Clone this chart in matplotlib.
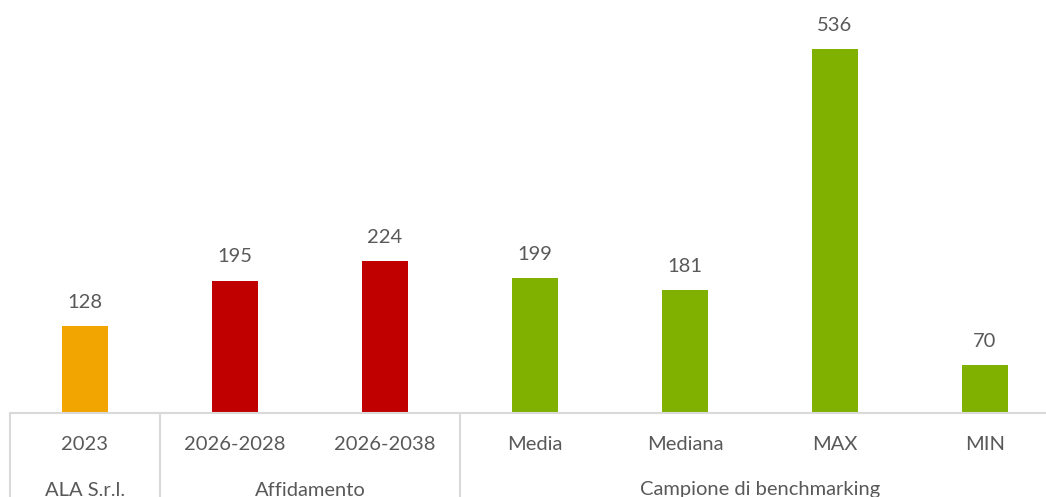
import matplotlib.pyplot as plt
from matplotlib.transforms import blended_transform_factory

plt.rcParams['font.family'] = ['Lato', 'DejaVu Sans']

categories = ['2023', '2026-2028', '2026-2038', 'Media', 'Mediana', 'MAX', 'MIN']
values = [128, 195, 224, 199, 181, 536, 70]
colors = ['#f2a400', '#c00000', '#c00000', '#80b000', '#80b000', '#80b000', '#80b000']
groups = ['ALA S.r.l.', 'Affidamento', 'Campione di benchmarking']
group_spans = [(0, 0), (1, 2), (3, 6)]

text_color = '#595959'
line_color = '#d9d9d9'
fs = 14.5

W, H = 1046, 497
fig = plt.figure(figsize=(W / 100, H / 100), dpi=100)
# plot area: baseline at y=413 px, category width 150 px starting at x=10
ax = fig.add_axes([10 / W, (H - 413) / H, 1050 / W, 413 / H])

x = range(len(categories))
bars = ax.bar(x, values, width=0.31, color=colors, zorder=2)
for b, v in zip(bars, values):
    ax.annotate(str(v), (b.get_x() + b.get_width() / 2, v), xytext=(0, 11),
                textcoords='offset points', ha='center', va='bottom',
                fontsize=fs, color=text_color)

ax.set_xlim(-0.5, len(categories) - 0.5)
ax.set_ylim(0, 608)
ax.axis('off')

# category axis with grouped labels
tr = blended_transform_factory(ax.transData, ax.transAxes)
ax.plot([-0.5, len(categories) - 0.5], [0, 0], transform=tr, color=line_color,
        lw=1.5, clip_on=False, zorder=3)
for xb in [-0.5, 0.5, 2.5]:
    ax.plot([xb, xb], [0, -0.3], transform=tr, color=line_color, lw=1.5,
            clip_on=False)

for i, c in enumerate(categories):
    ax.text(i, -31 / 413, c, transform=tr, ha='center', va='center',
            fontsize=fs, color=text_color)
for g, (a, b) in zip(groups, group_spans):
    ax.text((a + b) / 2, -77 / 413, g, transform=tr, ha='center', va='center',
            fontsize=fs, color=text_color)

fig.savefig('out.png', dpi=100)
